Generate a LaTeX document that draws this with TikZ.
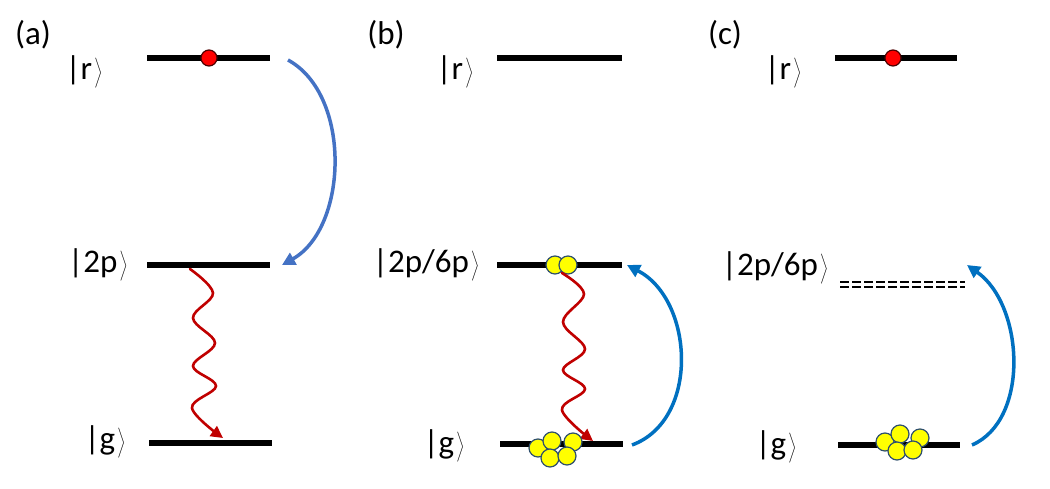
\documentclass[tikz,border=0pt]{standalone}
\usepackage{fontspec}
\setmainfont{Carlito}
\usetikzlibrary{arrows.meta}
\definecolor{lvlblue}{HTML}{4472C4}
\definecolor{pumpblue}{HTML}{0070C0}
\definecolor{wavered}{HTML}{C00000}
\definecolor{dotyellow}{HTML}{FFFF00}
\definecolor{dotedge}{HTML}{41719C}
\tikzset{
  level/.style={line width=6pt, line cap=butt},
  lbl/.style={font=\fontsize{33}{36}\selectfont, inner sep=0pt},
  reddot/.style={circle, fill=red, draw=black!70!red, line width=1.2pt, minimum size=16pt, inner sep=0pt},
  atom/.style={circle, fill=dotyellow, draw=dotedge!70!black, line width=1.2pt, minimum size=18pt, inner sep=0pt},
  pump/.style={line width=3.5pt, -{Triangle[length=13pt,width=13pt]}},
  decay/.style={wavered, line width=2.6pt, line cap=round, -{Triangle[length=12pt,width=12pt]}},
}
\newcommand{\ket}[1]{|#1\kern1pt$\left.\vrule height 23pt depth 6pt width 0pt\right\rangle$}
\begin{document}
\begin{tikzpicture}[x=1pt,y=-1pt]
\useasboundingbox (0,0) rectangle (1050,489);
% ---------- (a)
\node[lbl] (ta) at (33,35) {(a)};
\draw[level] (147,58) coordinate (ar1) -- (270,58) coordinate (ar2);
\draw[level] (147,265) coordinate (ap1) -- (270,265) coordinate (ap2);
\draw[level] (149,443) coordinate (ag1) -- (272,443) coordinate (ag2);
\node[reddot] (adot) at (209,58) {};
\node[lbl] (lar) at (84,72) {\ket{r}};
\node[lbl] (lap) at (98,265) {\ket{2p}};
\node[lbl] (lag) at (105,442) {\ket{g}};
\coordinate (aa1) at (288,60);
\coordinate (aa2) at (282,265);
\draw[pump, lvlblue] (aa1) .. controls (352,95) and (348,228) .. (aa2);
\coordinate (aw1) at (190,269);
\coordinate (aw2) at (223,438);
\draw[decay] plot[smooth, tension=0.6] coordinates
  {(aw1) (213,293) (193,318) (215,343) (193,366) (216,386) (192,408) (aw2)};
% ---------- (b)
\node[lbl] (tb) at (386,35) {(b)};
\draw[level] (497,58) coordinate (br1) -- (622,58) coordinate (br2);
\draw[level] (497,265) coordinate (bp1) -- (622,265) coordinate (bp2);
\draw[level] (500,444) coordinate (bg1) -- (623,444) coordinate (bg2);
\node[lbl] (lbr) at (455,72) {\ket{r}};
\node[lbl] (lbp) at (426,265) {\ket{2p/6p}};
\node[lbl] (lbg) at (444,446) {\ket{g}};
\node[atom] (b1) at (555,265) {};
\node[atom] (b2) at (568,265) {};
\coordinate (bw1) at (562,273);
\coordinate (bw2) at (593,441);
\draw[decay] plot[smooth, tension=0.6] coordinates
  {(bw1) (584,294) (563,322) (585,349) (563,370) (585,389) (562,410) (bw2)};
\node[atom] (b3) at (538,448) {};
\node[atom] (b4) at (552,441) {};
\node[atom] (b5) at (573,442) {};
\node[atom] (b6) at (550,458) {};
\node[atom] (b7) at (567,456) {};
\coordinate (ba1) at (632,445);
\coordinate (ba2) at (627,265);
\draw[pump, pumpblue] (ba1) .. controls (700,420) and (694,300) .. (ba2);
% ---------- (c)
\node[lbl] (tc) at (725,35) {(c)};
\draw[level] (835,58) coordinate (cr1) -- (957,58) coordinate (cr2);
\node[reddot] (cdot) at (893,58) {};
\node[lbl] (lcr) at (783,72) {\ket{r}};
\node[lbl] (lcp) at (775,268) {\ket{2p/6p}};
\draw[double, double distance=3pt, line width=2pt, dash pattern=on 9pt off 3pt]
   (840,285) coordinate (cp1) -- (965,285) coordinate (cp2);
\draw[level] (838,445) coordinate (cg1) -- (960,445) coordinate (cg2);
\node[lbl] (lcg) at (776,447) {\ket{g}};
\node[atom] (c1) at (885,442) {};
\node[atom] (c2) at (900,434) {};
\node[atom] (c3) at (920,438) {};
\node[atom] (c4) at (897,451) {};
\node[atom] (c5) at (913,450) {};
\coordinate (ca1) at (972,445);
\coordinate (ca2) at (967,265);
\draw[pump, pumpblue] (ca1) .. controls (1030,420) and (1024,305) .. (ca2);
\end{tikzpicture}
\end{document}
